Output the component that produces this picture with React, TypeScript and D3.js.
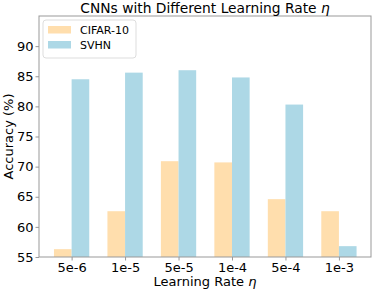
import React, { useEffect, useRef } from "react";
import * as d3 from "d3";

const rates = ["5e-6", "1e-5", "5e-5", "1e-4", "5e-4", "1e-3"];
const cifar = [56.3, 62.6, 70.9, 70.7, 64.6, 62.6];
const svhn = [84.5, 85.6, 86.0, 84.8, 80.3, 56.8];
const yTicks = [55, 60, 65, 70, 75, 80, 85, 90];

const App = () => {
  const svgRef = useRef<SVGSVGElement>(null);

  useEffect(() => {
    const W = 375;
    const H = 291;
    const m = { left: 39, right: 4, top: 16, bottom: 34 };
    const svg = d3.select(svgRef.current).attr("width", W).attr("height", H);
    svg.selectAll("*").remove();
    const font = "DejaVu Sans, sans-serif";

    // linear x so the group margins behave like matplotlib
    const x = d3
      .scaleLinear()
      .domain([-0.61, rates.length - 1 + 0.6])
      .range([m.left, W - m.right]);
    const y = d3.scaleLinear().domain([55, 95]).range([H - m.bottom, m.top]);
    const bw = x(0.33) - x(0);

    const g = svg.append("g");

    g.selectAll(".c")
      .data(cifar)
      .join("rect")
      .attr("x", (v, i) => x(i) - bw)
      .attr("y", (v) => y(v))
      .attr("width", bw)
      .attr("height", (v) => y(55) - y(v))
      .style("fill", "#FFDEAD");

    g.selectAll(".s")
      .data(svhn)
      .join("rect")
      .attr("x", (v, i) => x(i))
      .attr("y", (v) => y(v))
      .attr("width", bw)
      .attr("height", (v) => y(55) - y(v))
      .style("fill", "#ADD8E6");

    // frame
    svg
      .append("rect")
      .attr("x", m.left)
      .attr("y", m.top)
      .attr("width", W - m.right - m.left)
      .attr("height", H - m.bottom - m.top)
      .attr("fill", "none")
      .attr("stroke", "#999")
      .attr("stroke-width", 1);

    const yAxis = d3.axisLeft(y).tickValues(yTicks).tickSize(3.5).tickPadding(2);
    const ya = svg.append("g").attr("transform", `translate(${m.left},0)`).call(yAxis);
    const xAxis = d3
      .axisBottom(d3.scaleLinear().domain(x.domain()).range(x.range()))
      .tickValues(rates.map((r, i) => i))
      .tickFormat((d) => rates[d as number])
      .tickSize(3.5)
      .tickPadding(2);
    const xa = svg.append("g").attr("transform", `translate(0,${H - m.bottom})`).call(xAxis);
    [ya, xa].forEach((a) => {
      a.select(".domain").remove();
      a.selectAll("line").attr("stroke", "#999");
      a.selectAll("text").attr("fill", "#000").style("font-family", font).style("font-size", "13px");
    });

    svg
      .append("text")
      .attr("x", (m.left + W - m.right) / 2)
      .attr("y", 13)
      .attr("text-anchor", "middle")
      .style("font-family", font)
      .style("font-size", "13.8px")
      .text("CNNs with Different Learning Rate ")
      .append("tspan")
      .style("font-style", "italic")
      .text("η");

    svg
      .append("text")
      .attr("x", (m.left + W - m.right) / 2)
      .attr("y", 286)
      .attr("text-anchor", "middle")
      .style("font-family", font)
      .style("font-size", "13px")
      .text("Learning Rate ")
      .append("tspan")
      .style("font-style", "italic")
      .text("η");

    svg
      .append("text")
      .attr("transform", `translate(13,${(m.top + H - m.bottom) / 2}) rotate(-90)`)
      .attr("text-anchor", "middle")
      .style("font-family", font)
      .style("font-size", "13px")
      .text("Accuracy (%)");

    // legend
    const lg = svg.append("g").attr("transform", "translate(43,20)");
    lg.append("rect")
      .attr("width", 93)
      .attr("height", 38)
      .attr("rx", 3)
      .attr("fill", "#fff")
      .attr("fill-opacity", 0.8)
      .attr("stroke", "#ddd");
    const items = [
      { name: "CIFAR-10", color: "#FFDEAD" },
      { name: "SVHN", color: "#ADD8E6" },
    ];
    items.forEach((it, i) => {
      lg.append("rect")
        .attr("x", 5)
        .attr("y", 6 + i * 15)
        .attr("width", 23)
        .attr("height", 7.5)
        .attr("fill", it.color);
      lg.append("text")
        .attr("x", 37)
        .attr("y", 14 + i * 15)
        .style("font-family", font)
        .style("font-size", "11px")
        .text(it.name);
    });
  }, []);

  return (
    <div>
      <svg ref={svgRef} style={{ position: "absolute", left: 0, top: 0 }}></svg>
    </div>
  );
};

export default App;
